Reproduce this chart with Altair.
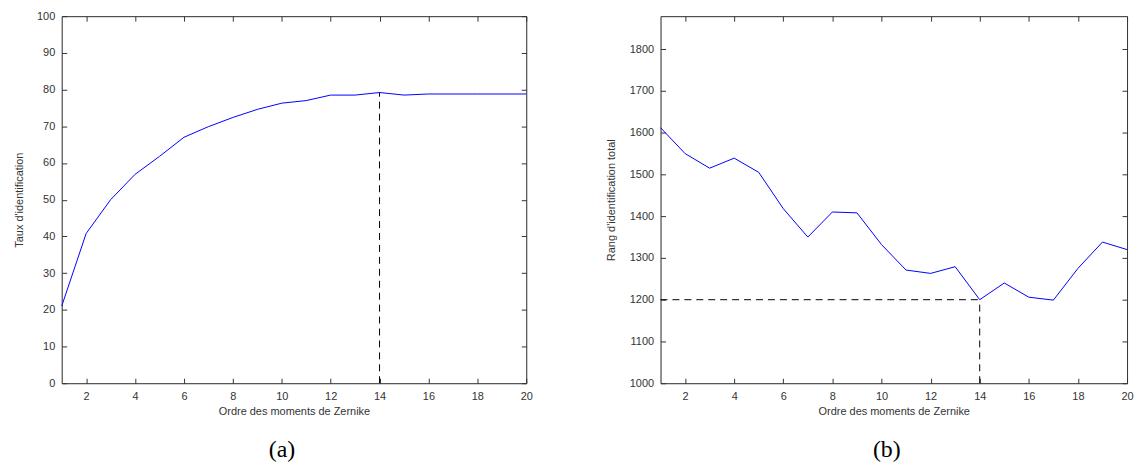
import altair as alt
import pandas as pd

# ---- data ----
orders = list(range(1, 21))
taux = [21.0, 40.8, 50.0, 56.9, 61.8, 67.0, 69.9, 72.4, 74.6, 76.3,
        77.0, 78.5, 78.5, 79.2, 78.5, 78.8, 78.8, 78.8, 78.8, 78.8]
rang = [1612, 1550, 1515, 1539, 1505, 1418, 1350, 1410, 1408, 1332,
        1271, 1263, 1279, 1200, 1240, 1206, 1199, 1275, 1338, 1320]
x_ticks = [2, 4, 6, 8, 10, 12, 14, 16, 18, 20]
taux_ticks = [0, 10, 20, 30, 40, 50, 60, 70, 80, 90, 100]
rang_ticks = [1000, 1100, 1200, 1300, 1400, 1500, 1600, 1700, 1800]
x_domain = [1, 20]
taux_domain = [0, 100]
rang_domain = [1000, 1879]
best_order = 14
best_taux = 79.2
best_rang = 1200

x_title = "Ordre des moments de Zernike"
FONT = "Liberation Sans"
AX_COLOR = "#333333"

df_a = pd.DataFrame({"ordre": orders, "val": taux})
df_b = pd.DataFrame({"ordre": orders, "val": rang})

seg_a = pd.DataFrame({"x": [best_order], "x2": [best_order],
                      "y": [taux_domain[0]], "y2": [best_taux]})
seg_b = pd.DataFrame({"x": [x_domain[0], best_order], "x2": [best_order, best_order],
                      "y": [best_rang, rang_domain[0]], "y2": [best_rang, best_rang]})


def panel(df, seg, ydom, yticks, ytitle, ytitle_pad, label, label_dx, width):
    xs = alt.Scale(domain=x_domain, nice=False, zero=False)
    ys = alt.Scale(domain=ydom, nice=False, zero=False)

    x_lab = alt.Axis(values=x_ticks, ticks=False, domain=True,
                     domainColor=AX_COLOR, grid=False, format="d",
                     labelPadding=7, labelFont=FONT, labelFontSize=11,
                     labelColor=AX_COLOR, title=x_title, titleFont=FONT,
                     titleFontSize=11, titleFontWeight="normal",
                     titleColor=AX_COLOR, titlePadding=4, labelFlush=False)
    y_lab = alt.Axis(values=yticks, ticks=False, domain=True,
                     domainColor=AX_COLOR, grid=False, format="d",
                     labelPadding=7, labelFont=FONT, labelFontSize=11,
                     labelColor=AX_COLOR, title=ytitle, titleFont=FONT,
                     titleFontSize=11, titleFontWeight="normal",
                     titleColor=AX_COLOR, titlePadding=ytitle_pad, labelFlush=False)

    def tick_axis(vals, orient):
        return alt.Axis(values=vals, orient=orient, labels=False, domain=False,
                        grid=False, tickSize=5, offset=-5, tickColor=AX_COLOR,
                        title=None)

    def frame_axis(orient):
        return alt.Axis(orient=orient, labels=False, ticks=False, domain=True,
                        domainColor=AX_COLOR, grid=False, title=None)

    line = alt.Chart(df).mark_line(color="#0000ff", strokeWidth=1).encode(
        x=alt.X("ordre:Q", scale=xs, axis=x_lab),
        y=alt.Y("val:Q", scale=ys, axis=y_lab),
    )
    rules = alt.Chart(seg).mark_rule(color="black", strokeWidth=1,
                                     strokeDash=[7, 5]).encode(
        x=alt.X("x:Q", scale=xs, axis=tick_axis(x_ticks, "bottom")),
        x2="x2:Q",
        y=alt.Y("y:Q", scale=ys, axis=tick_axis(yticks, "left")),
        y2="y2:Q",
    )
    ghost = alt.Chart(df).mark_line(strokeOpacity=0).encode(
        x=alt.X("ordre:Q", scale=xs, axis=tick_axis(x_ticks, "top")),
        y=alt.Y("val:Q", scale=ys, axis=tick_axis(yticks, "right")),
    )
    frame = alt.Chart(df).mark_line(strokeOpacity=0).encode(
        x=alt.X("ordre:Q", scale=xs, axis=frame_axis("top")),
        y=alt.Y("val:Q", scale=ys, axis=frame_axis("right")),
    )
    return alt.layer(line, rules, ghost, frame).resolve_axis(
        x="independent", y="independent"
    ).properties(
        width=width, height=369,
        title=alt.TitleParams(label, orient="bottom", anchor="middle",
                              font="Liberation Serif", fontSize=24,
                              fontWeight="normal", color="black",
                              offset=22, dx=label_dx),
    )


left = panel(df_a, seg_a, taux_domain, taux_ticks, "Taux d'identification",
             12, "(a)", -12, 467)
right = panel(df_b, seg_b, rang_domain, rang_ticks,
              "Rang d'identification total", 13, "(b)", -7, 469)

chart = alt.hconcat(left, right, spacing=72).properties(
    padding={"left": 5, "top": 0, "right": 0, "bottom": 0}
).configure_view(strokeOpacity=0).configure(background="white")

chart.save("out.html", embed_options={"renderer": "svg", "actions": False})
